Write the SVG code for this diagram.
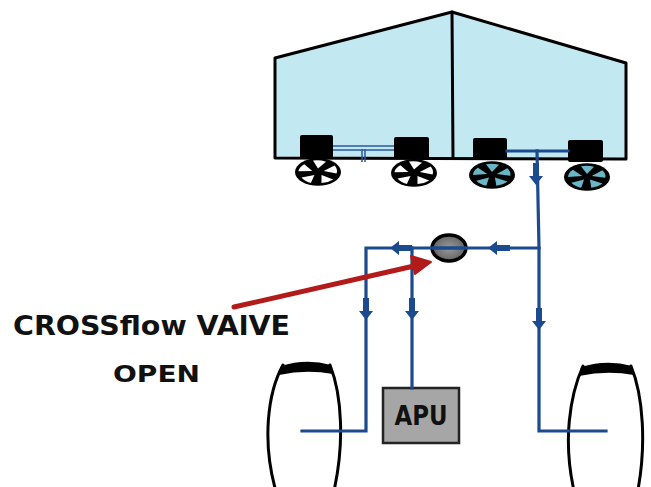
<svg xmlns="http://www.w3.org/2000/svg" width="651" height="487" viewBox="0 0 651 487">
  <style>
    .outline { fill: none; stroke: #000; stroke-width: 3; stroke-linejoin: round; stroke-linecap: round; }
    .body { fill: #c2e9f2; stroke: #000; stroke-width: 3; stroke-linejoin: round; }
    .pipe { fill: none; stroke: #1b4a8e; stroke-width: 3.2; stroke-linecap: square; }
    .engine { fill: #000; }
    .fan { fill: #000; }
    .blade-w { fill: #fff; }
    .blade-c { fill: #6ab6c6; }
    .flow { fill: #1b4a8e; }
    .hand { font-family: "DejaVu Sans", "Liberation Sans", sans-serif; font-weight: bold; fill: #111; }
  </style>
  <defs>
    <!-- flow arrow pointing down, tip at (0,8) -->
    <path id="flowArrow" class="flow" d="M-3,-14 H3 V-1 H7 L0,8 L-7,-1 H-3 Z"/>
    <!-- fan face, drawn on a circle and squashed into an ellipse -->
    <g id="fanWhite">
      <circle r="23" class="fan"/>
      <path class="blade-w" d="M0,-6 L-5,-19 A19,19 0 0 1 8,-17 Z"/>
      <path class="blade-w" d="M0,-6 L-5,-19 A19,19 0 0 1 8,-17 Z" transform="rotate(72)"/>
      <path class="blade-w" d="M0,-6 L-5,-19 A19,19 0 0 1 8,-17 Z" transform="rotate(144)"/>
      <path class="blade-w" d="M0,-6 L-5,-19 A19,19 0 0 1 8,-17 Z" transform="rotate(216)"/>
      <path class="blade-w" d="M0,-6 L-5,-19 A19,19 0 0 1 8,-17 Z" transform="rotate(288)"/>
    </g>
    <g id="fanCyan">
      <circle r="23" class="fan"/>
      <path class="blade-c" d="M0,-5 L-6,-18 A18,18 0 0 1 7,-17 Z"/>
      <path class="blade-c" d="M0,-5 L-6,-18 A18,18 0 0 1 7,-17 Z" transform="rotate(72)"/>
      <path class="blade-c" d="M0,-5 L-6,-18 A18,18 0 0 1 7,-17 Z" transform="rotate(144)"/>
      <path class="blade-c" d="M0,-5 L-6,-18 A18,18 0 0 1 7,-17 Z" transform="rotate(216)"/>
      <path class="blade-c" d="M0,-5 L-6,-18 A18,18 0 0 1 7,-17 Z" transform="rotate(288)"/>
    </g>
    <radialGradient id="valveFill" cx="50%" cy="50%" r="60%">
      <stop offset="0" stop-color="#9a9a9a"/>
      <stop offset="1" stop-color="#5a5a5a"/>
    </radialGradient>
  </defs>

  <rect width="651" height="487" fill="#fff"/>

  <!-- wing / fuel tank body -->
  <g id="tank">
    <path d="M275,58 L452,12 L626,63 L626,159 L275,158 Z" class="body"/>
    <path d="M452,12 L453,158" class="outline"/>
  </g>

  <!-- engines and their fans -->
  <g id="engine1">
    <rect x="300" y="135" width="33" height="23" rx="2" class="engine"/>
    <use href="#fanWhite" transform="translate(318,172) scale(1,0.6)"/>
  </g>
  <g id="engine2">
    <rect x="394" y="137" width="35" height="22" rx="2" class="engine"/>
    <use href="#fanWhite" transform="translate(414,173) scale(1,0.6)"/>
  </g>
  <g id="engine3">
    <rect x="473" y="138" width="34" height="22" rx="2" class="engine"/>
    <use href="#fanCyan" transform="translate(492,175) scale(1,0.6)"/>
  </g>
  <g id="engine4">
    <rect x="568" y="140" width="35" height="22" rx="2" class="engine"/>
    <use href="#fanCyan" transform="translate(587,177) scale(1,0.6)"/>
  </g>

  <!-- valve -->
  <g id="crossflow-valve">
    <ellipse cx="449" cy="248" rx="17" ry="13" fill="url(#valveFill)" stroke="#000" stroke-width="3.5"/>
  </g>

  <!-- APU -->
  <g id="apu">
    <rect x="383" y="388" width="76" height="55" fill="#a6a6a6" stroke="#222" stroke-width="2.5"/>
    <text x="421" y="425" text-anchor="middle" font-size="27" textLength="53" lengthAdjust="spacingAndGlyphs" class="hand">APU</text>
  </g>

  <!-- landing gear wheels -->
  <g id="wheel-left">
    <path d="M283,365 C268,392 261,442 277,495" class="outline"/>
    <path d="M330,365 C342,395 345,445 333,495" class="outline"/>
    <path d="M281,366 Q306,358 331,365 L333,374 Q306,369 279,375 Z" fill="#000"/>
  </g>
  <g id="wheel-right">
    <path d="M583,366 C570,395 562,442 575,495" class="outline"/>
    <path d="M631,366 C643,395 647,445 637,495" class="outline"/>
    <path d="M581,367 Q607,359 632,366 L634,375 Q607,370 579,376 Z" fill="#000"/>
  </g>

  <!-- fuel lines -->
  <g id="connectors">
    <!-- left engines feed (isolated) -->
    <path d="M333,146 H394 M333,150 H394" fill="none" stroke="#2a5a9e" stroke-width="1.3"/>
    <path d="M362,149 V162 M365,149 V162" fill="none" stroke="#2a5a9e" stroke-width="1.5"/>
    <!-- right engines feed -->
    <path d="M507,151 H568" class="pipe"/>
    <path d="M537,151 L539,248 V431 H606" class="pipe" stroke-linejoin="miter"/>
    <!-- crossflow line -->
    <path d="M539,248 H366 V431 H302" class="pipe" stroke-linejoin="miter"/>
    <path d="M412,248 V388" class="pipe"/>
    <path d="M432,248 H466" stroke="#1b4a8e" stroke-width="3"/>
    <!-- flow direction arrows -->
    <use href="#flowArrow" transform="translate(536,177)"/>
    <use href="#flowArrow" transform="translate(496,248) rotate(90)"/>
    <use href="#flowArrow" transform="translate(398,248) rotate(90)"/>
    <use href="#flowArrow" transform="translate(366,312)"/>
    <use href="#flowArrow" transform="translate(412,312)"/>
    <use href="#flowArrow" transform="translate(539,322)"/>
  </g>

  <!-- callout -->
  <g id="callout">
    <path d="M234,307 L414,266" fill="none" stroke="#b31b1b" stroke-width="5" stroke-linecap="round"/>
    <path d="M431,262 L411,256 L415,274 Z" fill="#b31b1b" stroke="#b31b1b" stroke-width="2" stroke-linejoin="round"/>
    <text x="13" y="335" font-size="26" textLength="277" lengthAdjust="spacingAndGlyphs" class="hand">CROSSflow VAlVE</text>
    <text x="113" y="382" font-size="23" textLength="87" lengthAdjust="spacingAndGlyphs" class="hand">OPEN</text>
  </g>
</svg>
